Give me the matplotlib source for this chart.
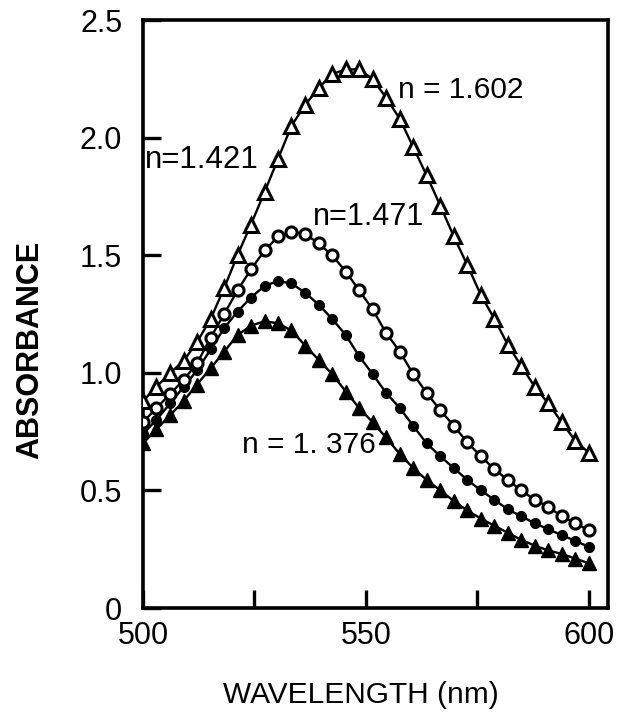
import numpy as np
import matplotlib
matplotlib.use("Agg")
import matplotlib.pyplot as plt

# wavelengths (nm), ~3 nm spacing, 34 points from 500 to 600
wavelength = [500.0, 503.0, 506.1, 509.1, 512.1, 515.2, 518.2, 521.2, 524.2, 527.3,
              530.3, 533.3, 536.4, 539.4, 542.4, 545.5, 548.5, 551.5, 554.5, 557.6,
              560.6, 563.6, 566.7, 569.7, 572.7, 575.8, 578.8, 581.8, 584.8, 587.9,
              590.9, 593.9, 597.0, 600.0]

abs_open_tri = [0.88, 0.94, 1.00, 1.05, 1.13, 1.23, 1.36, 1.50, 1.63, 1.77,
                1.91, 2.05, 2.14, 2.21, 2.27, 2.29, 2.29, 2.25, 2.17, 2.08,
                1.96, 1.84, 1.71, 1.58, 1.46, 1.33, 1.23, 1.12, 1.03, 0.94,
                0.87, 0.79, 0.71, 0.66]

abs_open_circ = [0.79, 0.85, 0.91, 0.97, 1.04, 1.15, 1.25, 1.35, 1.44, 1.52,
                 1.58, 1.60, 1.59, 1.55, 1.50, 1.43, 1.35, 1.27, 1.17, 1.09,
                 0.995, 0.915, 0.84, 0.775, 0.705, 0.645, 0.59, 0.545, 0.50, 0.46,
                 0.43, 0.39, 0.36, 0.33]

abs_fill_circ = [0.74, 0.80, 0.87, 0.94, 1.01, 1.10, 1.19, 1.26, 1.32, 1.37,
                 1.39, 1.38, 1.34, 1.29, 1.23, 1.16, 1.07, 0.995, 0.915, 0.85,
                 0.775, 0.70, 0.645, 0.595, 0.545, 0.50, 0.46, 0.42, 0.39, 0.36,
                 0.335, 0.31, 0.285, 0.26]

abs_fill_tri = [0.70, 0.76, 0.82, 0.88, 0.95, 1.02, 1.09, 1.16, 1.20, 1.22,
                1.21, 1.18, 1.115, 1.055, 0.995, 0.92, 0.85, 0.79, 0.725, 0.655,
                0.595, 0.545, 0.50, 0.455, 0.415, 0.38, 0.35, 0.32, 0.29, 0.265,
                0.245, 0.23, 0.21, 0.19]

x_ticks = [500, 525, 550, 575, 600]
x_ticklabels = ["500", "", "550", "", "600"]
y_ticks = [0, 0.5, 1.0, 1.5, 2.0, 2.5]
y_ticklabels = ["0", "0.5", "1.0", "1.5", "2.0", "2.5"]

# (text, left px, centre y px, font size)
labels = [("n = 1.602", 398, 90, 21.5), ("n=1.421", 145, 160, 22.5),
          ("n=1.471", 313, 217, 22), ("n = 1. 376", 242, 445, 21.5)]

plt.rcParams['font.family'] = ["Liberation Sans", "DejaVu Sans"]

W, H = 625, 728
fig = plt.figure(figsize=(W / 100, H / 100), dpi=100)
ax = fig.add_axes([143 / W, 1 - 608 / H, (608 - 143) / W, (608 - 20) / H])

lw = 1.7
ax.plot(wavelength, abs_fill_tri, '-', color='black', lw=lw, marker='^', ms=10,
        mfc='black', mec='black', mew=1.0, zorder=3)
ax.plot(wavelength, abs_fill_circ, '-', color='black', lw=lw, marker='o', ms=7,
        mfc='black', mec='black', mew=1.0, zorder=3)
ax.plot(wavelength, abs_open_circ, '-', color='black', lw=lw, marker='o', ms=8,
        mfc='white', mec='black', mew=2.2, zorder=4)
ax.plot(wavelength, abs_open_tri, '-', color='black', lw=lw, marker='^', ms=10.5,
        mfc='white', mec='black', mew=2.2, zorder=4)

ax.set_xlim(500, 604.3)
ax.set_ylim(0, 2.5)
ax.set_xticks(x_ticks)
ax.set_xticklabels(x_ticklabels)
ax.set_yticks(y_ticks)
ax.set_yticklabels(y_ticklabels)
ax.tick_params(axis='both', direction='in', length=13, width=2.4, labelsize=22)
ax.tick_params(axis='x', pad=9)
ax.tick_params(axis='y', pad=15)
for s in ax.spines.values():
    s.set_linewidth(2.6)

ax.set_xlabel("WAVELENGTH (nm)", fontsize=21.5)
ax.xaxis.set_label_coords((361 - 143) / 465, (608 - 695) / 588)
ax.xaxis.label.set_va('center')
ax.set_ylabel("ABSORBANCE", fontsize=22, fontweight='bold')
ax.yaxis.set_label_coords((30 - 143) / 465, (608 - 350) / 588)
ax.yaxis.label.set_va('center')

for txt, px, py, fs in labels:
    fig.text(px / W, 1 - py / H, txt, fontsize=fs, ha='left', va='center')

fig.savefig("out.png", dpi=100)
